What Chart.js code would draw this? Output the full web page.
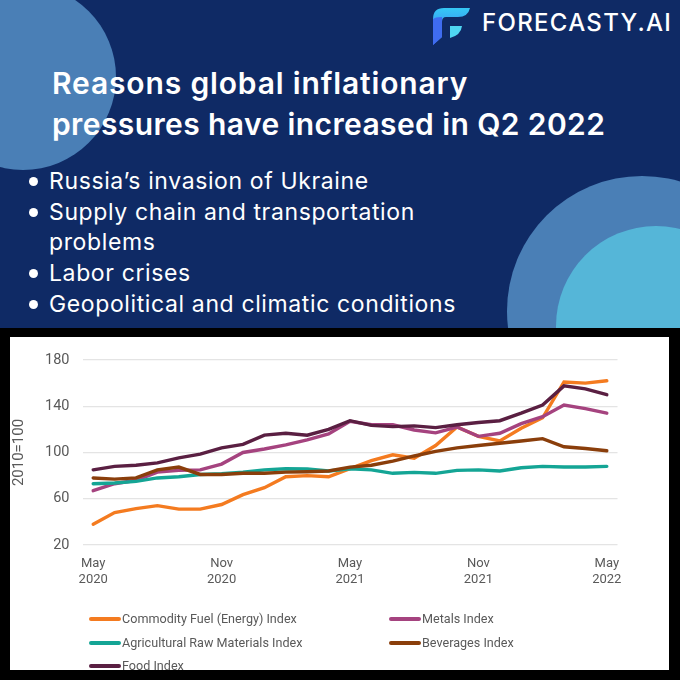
<!DOCTYPE html>
<html>
<head>
<meta charset="utf-8">
<title>Global inflationary pressures</title>
<script src="https://cdn.jsdelivr.net/npm/chart.js@4"></script>
<style>
html, body { margin: 0; padding: 0; }
body { width: 680px; height: 680px; position: relative; overflow: hidden; background: #000; font-family: Inter, sans-serif; }
#top { position: absolute; left: 0; top: 0; width: 680px; height: 328px; background: #0f2a65; overflow: hidden; color: #fff; }
.blob { position: absolute; border-radius: 50%; }
#blob1 { left: -70px; top: -16px; width: 186px; height: 186px; background: #4a7fb6; }
#blob2 { left: 507px; top: 176px; width: 270px; height: 270px; background: #4a7fb6; }
#blob3 { left: 556px; top: 226px; width: 200px; height: 200px; background: #55b6d8; }
#logo { position: absolute; left: 432px; top: 7px; }
#brand { position: absolute; left: 482px; top: 9px; font-size: 24px; font-weight: 500; letter-spacing: 1.3px; line-height: 28px; white-space: nowrap; }
h1 { position: absolute; left: 52px; top: 63px; margin: 0; font-size: 30px; line-height: 41px; font-weight: 600; letter-spacing: 0.4px; white-space: nowrap; }
h1 span { letter-spacing: 0.85px; }
ul { position: absolute; left: 49px; top: 166px; margin: 0; padding: 0; list-style: none; font-size: 23px; line-height: 30.7px; letter-spacing: 0.62px; }
li { position: relative; white-space: nowrap; }
li::before { content: ""; position: absolute; left: -20px; top: 11px; width: 9px; height: 9px; border-radius: 50%; background: #fff; }
#panel { position: absolute; left: 10px; top: 337px; width: 659px; height: 333px; background: #fff; overflow: hidden; }
#panel canvas { position: absolute; left: 0; top: 0; }
#legend { position: absolute; left: 0; top: 0; font-family: Roboto, sans-serif; font-size: 12.6px; color: #595959; }
.item { position: absolute; white-space: nowrap; line-height: 16px; }
.swatch { position: absolute; left: -33px; top: 6px; width: 32px; height: 3.5px; border-radius: 2px; }
</style>
</head>
<body>
<div id="top">
  <div class="blob" id="blob1"></div>
  <div class="blob" id="blob2"></div>
  <div class="blob" id="blob3"></div>
  <svg id="logo" width="40" height="40" viewBox="0 0 40 40">
    <defs>
      <linearGradient id="g1" x1="0" y1="0" x2="0" y2="1">
        <stop offset="0" stop-color="#35c8f5"/><stop offset="1" stop-color="#3f6cf0"/>
      </linearGradient>
    </defs>
    <path d="M1 12 Q1 1 12 1 L38 1 Q36 10 26 10 L14 10 Q10 10 10 15 L10 30 L1 38 Z" fill="url(#g1)"/>
    <path d="M1 12 Q3 10 10 10 L10 30 L1 38 Z" fill="#3f6cf0"/>
    <path d="M18 19 L30 19 Q29 28 18 31 Z" fill="#4fd6f2"/>
  </svg>
  <div id="brand">FORECASTY.AI</div>
  <h1><span>Reasons global inflationary</span><br>pressures have increased in Q2 2022</h1>
  <ul>
    <li>Russia’s invasion of Ukraine</li>
    <li>Supply chain and transportation<br>problems</li>
    <li>Labor crises</li>
    <li>Geopolitical and climatic conditions</li>
  </ul>
</div>
<div id="panel">
  <canvas id="chart" width="659" height="333"></canvas>
  <div id="legend"></div>
</div>
<script>
const months = ['May 2020','Jun 2020','Jul 2020','Aug 2020','Sep 2020','Oct 2020','Nov 2020','Dec 2020',
  'Jan 2021','Feb 2021','Mar 2021','Apr 2021','May 2021','Jun 2021','Jul 2021','Aug 2021','Sep 2021','Oct 2021',
  'Nov 2021','Dec 2021','Jan 2022','Feb 2022','Mar 2022','Apr 2022','May 2022'];
const fuel = [38,48,51.5,54,51,51,55,63.5,69.6,79,80,79,86,93,98,95,106,122,114,110,121,130,161,160,162];
const metals = [67,73,76,83,84.5,85,90,100,103,106.6,111,116,127,124,124,119.5,117,122,114,116.6,125,131,141,138,134];
const agri = [73,73.6,75,78,79,81,81.6,83,85,86,85.7,84,86,85,82,82.8,82,84.5,85,84,86.8,88,87.4,87.4,88];
const beverages = [78,77,78,85,87.4,81,81,82,82,83,83.4,84,87.4,89,92.5,97,101,104,106,108,110,112,105,103.5,101.5];
const food = [85,88,89,91,95.4,98.6,104,107,115,116.6,115,120,127.5,123.5,122.4,123,121.5,124,126,127.5,134,141,157.6,155,150];
const yTicks = [20,60,100,140,180];

const grey = '#595959';
const series = [
  { label: 'Commodity Fuel (Energy) Index', data: fuel, borderColor: '#f47b20', order: 5 },
  { label: 'Metals Index', data: metals, borderColor: '#a5437f', order: 4 },
  { label: 'Agricultural Raw Materials Index', data: agri, borderColor: '#14a595', order: 3 },
  { label: 'Beverages Index', data: beverages, borderColor: '#8a3e0b', order: 2 },
  { label: 'Food Index', data: food, borderColor: '#5a1f42', order: 1 }
];

const chart = new Chart(document.getElementById('chart'), {
  type: 'line',
  data: {
    labels: months,
    datasets: series.map(s => Object.assign({ borderWidth: 3.4, pointRadius: 0, tension: 0, borderCapStyle: 'round', fill: false }, s))
  },
  options: {
    responsive: false,
    animation: false,
    layout: { padding: { top: 23, right: 51.5, left: 0, bottom: 0 } },
    plugins: { legend: { display: false }, tooltip: { enabled: false } },
    scales: {
      x: {
        offset: true,
        grid: { display: false },
        border: { display: false },
        afterFit: a => { a.height = 125; },
        ticks: {
          autoSkip: false,
          maxRotation: 0,
          padding: 3,
          color: grey,
          font: { family: 'Roboto', size: 13, lineHeight: 1.2 },
          callback: function(v, i) { return i % 6 === 0 ? months[i].split(' ') : ''; }
        }
      },
      y: {
        min: 20,
        max: 180,
        afterBuildTicks: a => { a.ticks = yTicks.map(v => ({ value: v })); },
        afterFit: a => { a.width = 72.5; },
        grid: { color: '#e4e4e4', lineWidth: 1.2, drawTicks: false },
        border: { display: false },
        title: { display: true, text: '2010=100', color: grey, font: { family: 'Roboto', size: 15 }, padding: 0 },
        ticks: { padding: 13, color: grey, font: { family: 'Roboto', size: 14.5 } }
      }
    }
  }
});

// legend is two columns and runs off the bottom of the panel, so built by hand
const legendSlots = [[112, 274], [412, 274], [112, 298], [412, 298], [112, 321]];
const legendBox = document.getElementById('legend');
chart.data.datasets.forEach((ds, i) => {
  const item = document.createElement('div');
  item.className = 'item';
  item.style.left = legendSlots[i][0] + 'px';
  item.style.top = legendSlots[i][1] + 'px';
  const sw = document.createElement('span');
  sw.className = 'swatch';
  sw.style.background = ds.borderColor;
  item.appendChild(sw);
  item.appendChild(document.createTextNode(ds.label));
  legendBox.appendChild(item);
});
</script>
</body>
</html>
